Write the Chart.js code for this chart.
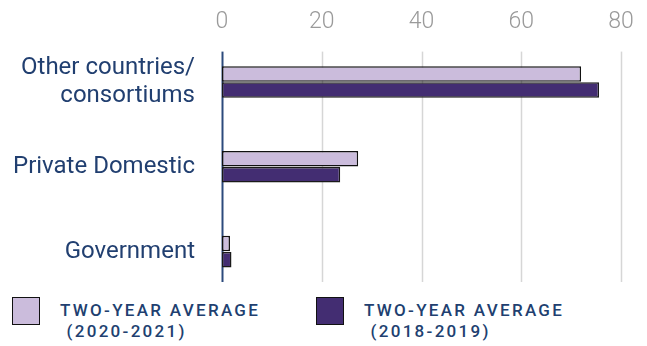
<!DOCTYPE html>
<html>
<head>
<meta charset="utf-8">
<script src="https://cdn.jsdelivr.net/npm/chart.js@4.4.0/dist/chart.umd.min.js"></script>
<style>
  body { margin: 0; background: #fff; font-family: Roboto, sans-serif; }
  #wrap { position: relative; width: 647px; height: 346px; }
  #graph1 { position: absolute; left: 0; top: 0; }
  .leg { position: absolute; top: 297px; display: flex; }
  .sw { width: 26px; height: 26px; border: 1.5px solid #111; }
  .lt { margin-left: 20px; color: #213f70; font-size: 17px; font-weight: 500; letter-spacing: 2.3px; line-height: 21px; margin-top: 3px; }
</style>
</head>
<body>
<div id="wrap">
  <canvas id="graph1" width="647" height="296"></canvas>
  <div class="leg" style="left:12px"><div class="sw" style="background:#cbbcdc"></div><div class="lt">TWO-YEAR AVERAGE<br>&nbsp;(2020-2021)</div></div>
  <div class="leg" style="left:316px"><div class="sw" style="background:#432d72"></div><div class="lt">TWO-YEAR AVERAGE<br>&nbsp;(2018-2019)</div></div>
</div>
<script>
var categories = [['Other countries/', 'consortiums'], 'Private Domestic', 'Government'];
var avg2020 = [72, 27.3, 1.6];
var avg2018 = [75.6, 23.7, 1.9];
var xTicks = [0, 20, 40, 60, 80];

// grid lines only span part of the chart area in the original
var gridPlugin = {
    id: 'partGrid',
    beforeDatasetsDraw: function(chart) {
        var ctx = chart.ctx;
        var x = chart.scales.x;
        var top = chart.chartArea.top + 12;
        var bottom = chart.chartArea.bottom - 12;
        ctx.save();
        xTicks.forEach(function(v) {
            var px = Math.round(x.getPixelForValue(v)) + 0.5;
            ctx.beginPath();
            ctx.moveTo(px, top);
            ctx.lineTo(px, bottom);
            ctx.lineWidth = v === 0 ? 2 : 1.5;
            ctx.strokeStyle = v === 0 ? '#2c4a7c' : '#d6d6d6';
            ctx.stroke();
        });
        ctx.restore();
    }
};

var ctx1 = document.getElementById('graph1').getContext('2d');
var chart1 = new Chart(ctx1, {
    type: 'bar',
    data: {
        labels: categories,
        datasets: [{
            label: 'TWO-YEAR AVERAGE (2020-2021)',
            data: avg2020,
            backgroundColor: '#cbbcdc',
            borderColor: '#111111',
            borderWidth: 1.5,
            borderSkipped: false
        }, {
            label: 'TWO-YEAR AVERAGE (2018-2019)',
            data: avg2018,
            backgroundColor: '#432d72',
            borderColor: '#1a1a1a',
            borderWidth: 1.5,
            borderSkipped: false
        }]
    },
    options: {
        indexAxis: 'y',
        responsive: false,
        animation: false,
        layout: { padding: { top: 4, right: 26, left: 0, bottom: 2 } },
        categoryPercentage: 0.38,
        barPercentage: 0.96,
        plugins: {
            legend: { display: false },
            tooltip: { enabled: false }
        },
        scales: {
            x: {
                position: 'top',
                min: 0,
                max: 80,
                afterBuildTicks: function(axis) {
                    axis.ticks = xTicks.map(function(v) { return { value: v }; });
                },
                grid: { display: false, drawTicks: false },
                border: { display: false },
                ticks: {
                    color: '#9a9a9a',
                    padding: 4,
                    font: { family: 'Roboto', size: 23, weight: 300 }
                }
            },
            y: {
                afterFit: function(scale) {
                    scale.width = 222;
                    scale.paddingTop = 0;
                    scale.paddingBottom = 0;
                },
                grid: { display: false, drawTicks: false },
                border: { display: false },
                ticks: {
                    color: '#213f70',
                    padding: 27,
                    font: { family: 'Roboto', size: 24 }
                }
            }
        }
    },
    plugins: [gridPlugin]
});
</script>
</body>
</html>
